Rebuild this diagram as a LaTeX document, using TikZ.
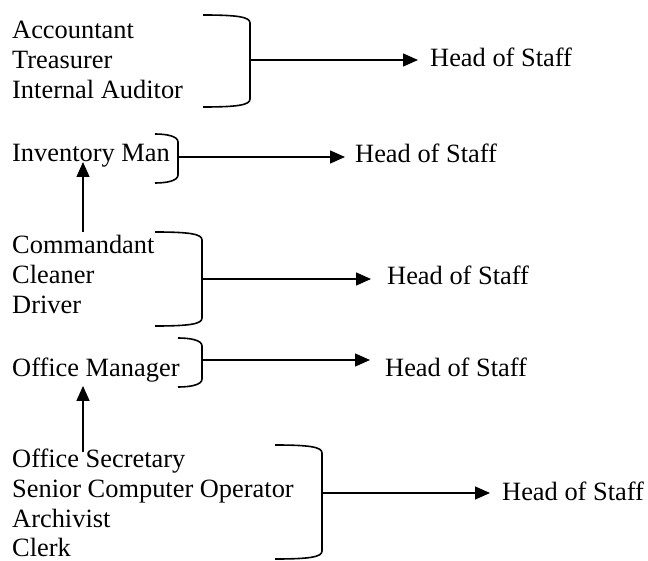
\documentclass[tikz,border=0pt]{standalone}
\usepackage{fontspec}
\setmainfont{Liberation Serif}
\usetikzlibrary{arrows.meta,calc}
\begin{document}
\begin{tikzpicture}[x=1pt,y=-1pt,
  lbl/.style={anchor=base west,inner sep=0pt,font=\fontsize{26.4}{30}\selectfont},
  brk/.style={line width=1.6pt},
  arr/.style={line width=1.4pt,-{Triangle[length=15pt,width=13pt]}}]
\useasboundingbox (0,0) rectangle (648,561);
\def\mybrk#1#2#3#4{%
  \draw[brk] (#1,#3) .. controls ({#2-12},#3) and (#2,{#3+2}) .. (#2,{#3+8})
    -- (#2,{#4-8}) .. controls (#2,{#4-2}) and ({#2-12},#4) .. (#1,#4);}
% group 1
\node[lbl] (acc) at (12,39) {Accountant};
\node[lbl] (tre) at (12,69) {Treasurer};
\node[lbl] (aud) at (12,99) {Internal Auditor};
\mybrk{203}{250}{15}{107}
\coordinate (a1) at (250,60);
\node[lbl] (h1) at (430,67) {Head of Staff};
\draw[arr,shorten >=12pt] (a1) -- (a1 -| h1.west);
% group 2
\node[lbl] (inv) at (12,162) {Inventory Man};
\mybrk{155}{178}{134}{183}
\coordinate (a2) at (178,157);
\node[lbl] (h2) at (355,163) {Head of Staff};
\draw[arr,shorten >=10pt] (a2) -- (a2 -| h2.west);
% group 3
\node[lbl] (cmd) at (12,254) {Commandant};
\node[lbl] (cln) at (12,284) {Cleaner};
\node[lbl] (drv) at (12,314) {Driver};
\mybrk{155}{202}{232}{326}
\coordinate (a3) at (202,279);
\node[lbl] (h3) at (387,285) {Head of Staff};
\draw[arr,shorten >=16pt] (a3) -- (a3 -| h3.west);
\coordinate (u1) at (83,232);
\draw[arr] (u1) -- (u1 |- inv.base);
% group 4
\node[lbl] (om) at (12,376) {Office Manager};
\mybrk{178}{202}{338}{387}
\coordinate (a4) at (202,360);
\node[lbl] (h4) at (385,377) {Head of Staff};
\draw[arr,shorten >=15pt] (a4) -- (a4 -| h4.west);
% group 5
\node[lbl] (sec) at (12,467) {Office Secretary};
\node[lbl] (sco) at (12,497) {Senior Computer Operator};
\node[lbl] (arc) at (12,527) {Archivist};
\node[lbl] (clk) at (12,556) {Clerk};
\mybrk{275}{322}{445}{559}
\coordinate (a5) at (322,493);
\node[lbl] (h5) at (502,500) {Head of Staff};
\draw[arr,shorten >=12pt] (a5) -- (a5 -| h5.west);
\coordinate (u2) at (83,452);
\draw[arr] (u2) -- ($(u2 |- om.south)+(0,4)$);
\end{tikzpicture}
\end{document}
